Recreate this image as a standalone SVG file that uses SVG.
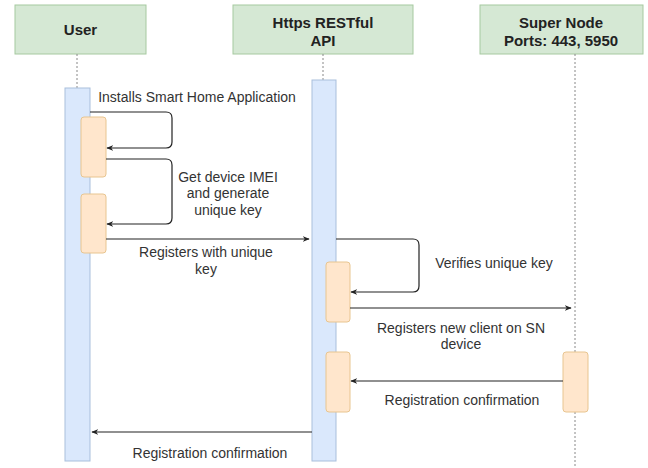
<svg xmlns="http://www.w3.org/2000/svg" width="648" height="468" viewBox="0 0 648 468">
<style>
.hdr{fill:#d5e8d4;stroke:#a6c9a0;stroke-width:1}
.ht{font-family:"Liberation Sans",Arial,sans-serif;font-weight:bold;font-size:15px;fill:#222;text-anchor:middle}
.life{stroke:#888;stroke-width:1;stroke-dasharray:2,2;fill:none}
.bar{fill:#dae8fc;stroke:#a9bfdc;stroke-width:1}
.act{fill:#ffe6cc;stroke:#e8c590;stroke-width:1}
.msg{stroke:#222;stroke-width:1.2;fill:none;marker-end:url(#ah)}
.lbl{font-family:"Liberation Sans",Arial,sans-serif;font-size:14px;fill:#333;text-anchor:middle}
</style>
<defs>
<marker id="ah" viewBox="0 0 10 10" refX="9" refY="5" markerWidth="7" markerHeight="7" orient="auto" markerUnits="userSpaceOnUse">
<path d="M0,1 L10,5 L0,9 L3,5 Z" fill="#222"/>
</marker>
</defs>
<rect width="648" height="468" fill="#fff"/>

<g id="user">
<rect class="hdr" x="15" y="5" width="131" height="49"/>
<text class="ht" x="80.5" y="35">User</text>
<line class="life" x1="77" y1="54" x2="77" y2="88"/>
<rect class="bar" x="65" y="88" width="25" height="373"/>
<rect class="act" x="81" y="117" width="25" height="60" rx="3"/>
<rect class="act" x="81" y="194" width="25" height="59" rx="3"/>
</g>

<g id="api">
<rect class="hdr" x="233" y="5" width="180" height="49"/>
<text class="ht" x="323" y="28">Https RESTful</text>
<text class="ht" x="323" y="46">API</text>
<line class="life" x1="323" y1="54" x2="323" y2="80"/>
<rect class="bar" x="312" y="80" width="24" height="381"/>
<rect class="act" x="326" y="262" width="24" height="60" rx="3"/>
<rect class="act" x="326" y="352" width="24" height="60" rx="3"/>
</g>

<g id="supernode">
<rect class="hdr" x="480" y="5" width="163" height="49"/>
<text class="ht" x="561" y="28">Super Node</text>
<text class="ht" x="561" y="46">Ports: 443, 5950</text>
<line class="life" x1="575" y1="54" x2="575" y2="352"/>
<line class="life" x1="575" y1="412" x2="575" y2="468"/>
<rect class="act" x="563" y="352" width="25" height="60" rx="3"/>
</g>

<g id="connectors">
<path class="msg" d="M90,112 H166 Q172,112 172,118 V142 Q172,148 166,148 H107"/>
<path class="msg" d="M106,159 H166 Q172,159 172,165 V218 Q172,224 166,224 H107"/>
<path class="msg" d="M106,239 H309"/>
<path class="msg" d="M336,239 H413 Q419,239 419,245 V286 Q419,292 413,292 H351"/>
<path class="msg" d="M350,308 H571"/>
<path class="msg" d="M563,381 H351"/>
<path class="msg" d="M312,432 H92"/>
</g>

<g id="labels">
<text class="lbl" x="197" y="102">Installs Smart Home Application</text>
<text class="lbl" x="228" y="182">Get device IMEI</text>
<text class="lbl" x="228" y="198">and generate</text>
<text class="lbl" x="228" y="215">unique key</text>
<text class="lbl" x="206" y="257">Registers with unique</text>
<text class="lbl" x="206" y="274">key</text>
<text class="lbl" x="494" y="268">Verifies unique key</text>
<text class="lbl" x="461" y="333">Registers new client on SN</text>
<text class="lbl" x="461" y="349">device</text>
<text class="lbl" x="462" y="405">Registration confirmation</text>
<text class="lbl" x="210" y="458">Registration confirmation</text>
</g>
</svg>
